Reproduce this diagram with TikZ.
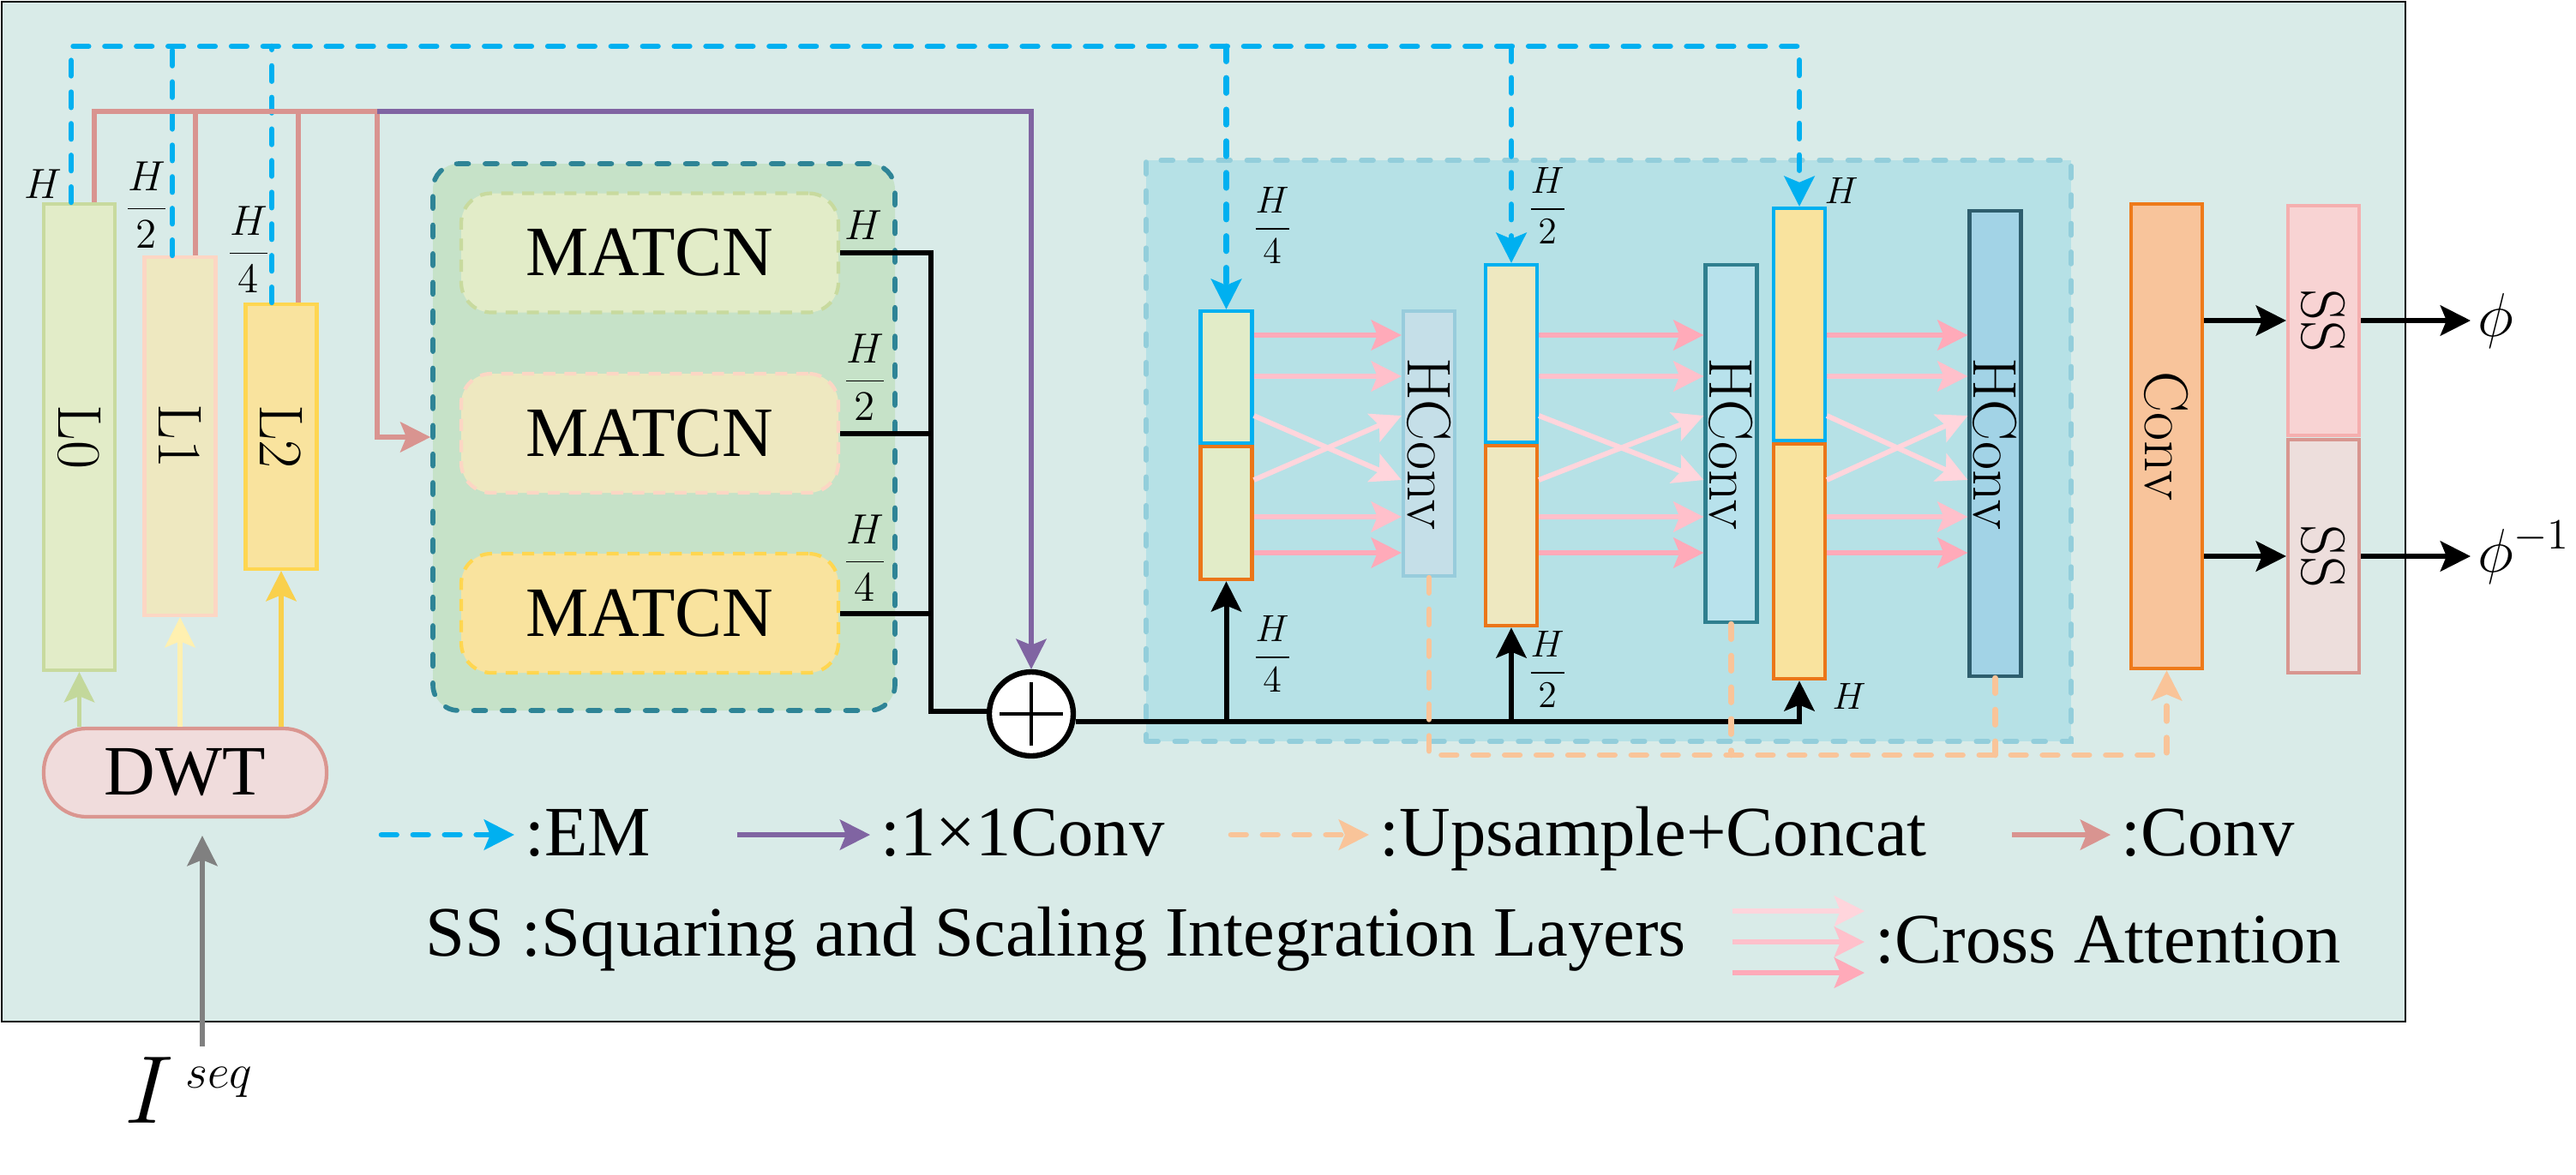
\RequirePackage{fix-cm}
\documentclass[tikz,border=0pt]{standalone}
\usepackage{fontspec}
\newfontfamily\timesfont{Liberation Serif}
\usetikzlibrary{arrows.meta,positioning}

\definecolor{outerbg}{RGB}{217,235,232}
\definecolor{grpbg}{RGB}{198,226,200}
\definecolor{grpd}{RGB}{46,132,150}
\definecolor{panelbg}{RGB}{182,225,230}
\definecolor{paneld}{RGB}{147,206,219}
\definecolor{lv0}{RGB}{226,236,200}
\definecolor{lv0d}{RGB}{200,218,158}
\definecolor{lv1}{RGB}{238,232,192}
\definecolor{lv1d}{RGB}{252,214,196}
\definecolor{lv2}{RGB}{249,227,158}
\definecolor{lv2d}{RGB}{255,214,80}
\definecolor{emblue}{RGB}{0,176,240}
\definecolor{orng}{RGB}{235,118,25}
\definecolor{hc1}{RGB}{197,223,232}
\definecolor{hc1d}{RGB}{152,204,220}
\definecolor{hc2}{RGB}{184,226,236}
\definecolor{hc2d}{RGB}{47,127,143}
\definecolor{hc3}{RGB}{162,211,230}
\definecolor{hc3d}{RGB}{46,94,110}
\definecolor{convf}{RGB}{248,196,155}
\definecolor{convd}{RGB}{238,122,26}
\definecolor{ssa}{RGB}{248,211,211}
\definecolor{ssad}{RGB}{245,175,175}
\definecolor{ssb}{RGB}{237,222,220}
\definecolor{ssbd}{RGB}{216,150,144}
\definecolor{dwt}{RGB}{240,220,220}
\definecolor{dwtd}{RGB}{218,150,144}
\definecolor{arA}{RGB}{195,216,155}
\definecolor{arB}{RGB}{255,240,176}
\definecolor{arC}{RGB}{249,208,76}
\definecolor{convpink}{RGB}{217,148,144}
\definecolor{purp}{RGB}{128,100,162}
\definecolor{peach}{RGB}{249,196,153}
\definecolor{crossA}{RGB}{255,213,220}
\definecolor{crossB}{RGB}{255,192,203}
\definecolor{crossC}{RGB}{255,170,185}

\tikzset{
  tnr/.style={font=\timesfont\fontsize{23.5}{28}\selectfont},
  boxtxt/.style={font=\fontsize{20.5}{24}\selectfont},
  hlab/.style={font=\fontsize{14}{17}\selectfont},
  hsmall/.style={font=\fontsize{12.5}{15}\selectfont},
  lvl/.style={draw,line width=1.2pt,minimum width=0.83cm,inner sep=0pt},
  blk/.style={draw,line width=1.2pt,minimum width=0.6cm,inner sep=0pt},
  matbox/.style={tnr,draw,dash pattern=on 4pt off 3pt,line width=1.2pt,rounded corners=0.35cm,minimum width=4.4cm,minimum height=1.39cm},
  grpbox/.style={draw=grpd,fill=grpbg,dash pattern=on 4pt off 5.5pt,line cap=round,line width=1.6pt,rounded corners=0.3cm,minimum width=5.39cm,minimum height=6.38cm},
  panelbox/.style={draw=paneld,fill=panelbg,dash pattern=on 4pt off 5.5pt,line cap=round,line width=1.6pt,minimum width=10.79cm,minimum height=6.78cm},
  emline/.style={draw=emblue,line width=1.9pt,line cap=round,dash pattern=on 5pt off 5.5pt},
  upline/.style={draw=peach,line width=1.9pt,line cap=round,dash pattern=on 5pt off 5.5pt},
  convline/.style={draw=convpink,line width=1.6pt},
  pline/.style={draw=purp,line width=1.6pt},
  bk/.style={draw=black,line width=1.7pt},
  ca/.style={line width=1.7pt},
}

\begin{document}
\begin{tikzpicture}[>={Stealth[length=10pt,width=10pt,inset=2pt]}]
\useasboundingbox (0,0) rectangle (30.05,-13.70);
\draw[fill=outerbg,line width=0.7pt] (0.02,-0.02) rectangle (28.06,-11.92);

\node[grpbox] (grp) at (7.745,-5.10) {};
\node[panelbox] (panel) at (18.765,-5.26) {};

\node[lvl,draw=lv0d,fill=lv0,minimum height=5.44cm,label={[boxtxt,rotate=-90]center:L0}] (L0) at (0.925,-5.10) {};
\node[lvl,draw=lv1d,fill=lv1,minimum height=4.18cm,label={[boxtxt,rotate=-90]center:L1}] (L1) at (2.10,-5.09) {};
\node[lvl,draw=lv2d,fill=lv2,minimum height=3.09cm,label={[boxtxt,rotate=-90]center:L2}] (L2) at (3.28,-5.095) {};
\node[tnr,draw=dwtd,fill=dwt,line width=1.2pt,rounded corners=0.5cm,minimum width=3.30cm,minimum height=1.03cm] (DWT) at (2.16,-9.015) {DWT};

\node[matbox,draw=lv0d,fill=lv0] (M1) at (7.58,-2.95) {MATCN};
\node[matbox,draw=lv1d,fill=lv1] (M2) at (7.58,-5.055) {MATCN};
\node[matbox,draw=lv2d,fill=lv2] (M3) at (7.58,-7.155) {MATCN};

\node[circle,draw,fill=white,line width=1.8pt,minimum size=0.98cm,inner sep=0pt,
  path picture={\draw[line width=1.1pt] ([xshift=-0.37cm]path picture bounding box.center) -- ([xshift=0.37cm]path picture bounding box.center) ([yshift=-0.37cm]path picture bounding box.center) -- ([yshift=0.37cm]path picture bounding box.center);}] (plus) at (12.03,-8.33) {};

\node[blk,draw=emblue,fill=lv0,minimum height=1.54cm] (A-up) at (14.305,-4.40) {};
\node[blk,draw=orng,fill=lv0,minimum height=1.55cm,below=0pt of A-up] (A-low) {};
\node[blk,draw=emblue,fill=lv1,minimum height=2.07cm] (B-up) at (17.63,-4.125) {};
\node[blk,draw=orng,fill=lv1,minimum height=2.10cm,below=0pt of B-up] (B-low) {};
\node[blk,draw=emblue,fill=lv2,minimum height=2.71cm] (C-up) at (20.99,-3.785) {};
\node[blk,draw=orng,fill=lv2,minimum height=2.74cm,below=0pt of C-up] (C-low) {};

\node[blk,draw=hc1d,fill=hc1,minimum height=3.09cm,label={[boxtxt,rotate=-90]center:HConv}] (H1) at (16.67,-5.175) {};
\node[blk,draw=hc2d,fill=hc2,minimum height=4.17cm,label={[boxtxt,rotate=-90]center:HConv}] (H2) at (20.195,-5.175) {};
\node[blk,draw=hc3d,fill=hc3,minimum height=5.43cm,label={[boxtxt,rotate=-90]center:HConv}] (H3) at (23.275,-5.175) {};

\node[lvl,draw=convd,fill=convf,minimum height=5.42cm,label={[boxtxt,rotate=-90]center:Conv}] (Conv) at (25.275,-5.09) {};
\node[lvl,draw=ssad,fill=ssa,minimum height=2.68cm,label={[boxtxt,rotate=-90]center:SS}] (SS1) at (27.105,-3.74) {};
\node[lvl,draw=ssbd,fill=ssb,minimum height=2.72cm,label={[boxtxt,rotate=-90]center:SS}] (SS2) at (27.105,-6.49) {};
\node[boxtxt,anchor=base west,inner sep=0.08cm] (phi) at (28.82,-3.92) {$\phi$};
\node[boxtxt,anchor=base west,inner sep=0.08cm] (phiinv) at (28.82,-6.67) {$\phi^{-1}$};

\node[font=\fontsize{32}{36}\selectfont,anchor=base west,inner sep=0pt] (iseq) at (1.45,-13.10) {$I^{\,\scriptscriptstyle seq}$};

\node[hlab] (hL0) at (0.50,-2.15) {$H$};
\node[hlab] (hL1) at (1.71,-2.39) {$\displaystyle\frac{H}{2}$};
\node[hlab] (hL2) at (2.90,-2.91) {$\displaystyle\frac{H}{4}$};
\node[hlab] (hM1) at (10.07,-2.63) {$H$};
\node[hlab] (hM2) at (10.09,-4.40) {$\displaystyle\frac{H}{2}$};
\node[hlab] (hM3) at (10.09,-6.51) {$\displaystyle\frac{H}{4}$};
\node[hsmall] (hAt) at (14.84,-2.63) {$\displaystyle\frac{H}{4}$};
\node[hsmall] (hBt) at (18.05,-2.40) {$\displaystyle\frac{H}{2}$};
\node[hsmall] (hCt) at (21.48,-2.22) {$H$};
\node[hsmall] (hAb) at (14.84,-7.63) {$\displaystyle\frac{H}{4}$};
\node[hsmall] (hBb) at (18.05,-7.81) {$\displaystyle\frac{H}{2}$};
\node[hsmall] (hCb) at (21.57,-8.12) {$H$};

\coordinate (em0) at (0.83,-0.54);
\coordinate (em1) at (2.01,-0.54);
\coordinate (em2) at (3.17,-0.54);
\coordinate (cv0) at (1.10,-1.30);
\coordinate (cv1) at (2.28,-1.30);
\coordinate (cv2) at (3.48,-1.30);
\coordinate (cv3) at (4.40,-1.30);
\coordinate (bus) at (10.86,-8.30);
\coordinate (upc) at (25.275,-8.81);
\coordinate (isrc) at (2.36,-12.21);
\coordinate (r1) at (0,-3.91);
\coordinate (r2) at (0,-4.39);
\coordinate (r3) at (0,-4.85);
\coordinate (r4) at (0,-5.60);
\coordinate (r5) at (0,-6.03);
\coordinate (r6) at (0,-6.45);
\coordinate (mainy) at (0,-8.42);

\draw[emline,->] (em0 |- L0.north) -- (em0) -| (C-up.north);
\draw[emline] (em1 |- L1.north) -- (em1);
\draw[emline] (em2 |- L2.north) -- (em2);
\draw[emline,->] (A-up.north |- em0) -- (A-up.north);
\draw[emline,->] (B-up.north |- em0) -- (B-up.north);

\draw[convline] (cv0 |- L0.north) -- (cv0) -- (cv3);
\draw[convline] (cv1 |- L1.north) -- (cv1);
\draw[convline] (cv2 |- L2.north) -- (cv2);
\draw[convline,->] (cv3) |- (grp.west);
\draw[pline,->] (cv3) -| (plus.north);

\draw[line width=1.6pt,draw=arA,->] (L0.south |- DWT.north) -- (L0.south);
\draw[line width=1.6pt,draw=arB,->] (L1.south |- DWT.north) -- (L1.south);
\draw[line width=1.6pt,draw=arC,->] (L2.south |- DWT.north) -- (L2.south);
\draw[line width=1.6pt,draw=gray,->,shorten >=0.2cm] (isrc) -- (isrc |- DWT.south);

\draw[bk] (M1.east) -| (bus) -- (bus -| plus.west);
\draw[bk] (M2.east) -- (M2.east -| bus);
\draw[bk] (M3.east) -- (M3.east -| bus);
\draw[bk,->] (plus.east |- mainy) -| (C-low.south);
\draw[bk,->] (A-low.south |- mainy) -- (A-low.south);
\draw[bk,->] (B-low.south |- mainy) -- (B-low.south);

\foreach \s/\d in {A/H1,B/H2,C/H3}{
  \draw[ca,draw=crossC,->] (\s-up.east |- r1) -- (\d.west |- r1);
  \draw[ca,draw=crossB,->] (\s-up.east |- r2) -- (\d.west |- r2);
  \draw[ca,draw=crossA,->] (\s-up.east |- r3) -- (\d.west |- r4);
  \draw[ca,draw=crossA,->] (\s-low.east |- r4) -- (\d.west |- r3);
  \draw[ca,draw=crossB,->] (\s-low.east |- r5) -- (\d.west |- r5);
  \draw[ca,draw=crossC,->] (\s-low.east |- r6) -- (\d.west |- r6);
}

\draw[upline,->] (H1.south) |- (upc) -- (Conv.south);
\draw[upline] (H2.south) -- (H2.south |- upc);
\draw[upline] (H3.south) -- (H3.south |- upc);

\draw[bk,->] (Conv.east |- SS1.west) -- (SS1.west);
\draw[bk,->] (Conv.east |- SS2.west) -- (SS2.west);
\draw[bk,->] (SS1.east) -- (SS1.east -| phi.west);
\draw[bk,->] (SS2.east) -- (SS2.east -| phiinv.west);

\coordinate (lg1) at (4.45,-9.74);
\coordinate (lg2) at (8.60,-9.74);
\coordinate (lg3) at (14.36,-9.74);
\coordinate (lg4) at (23.47,-9.74);
\coordinate (lgc1) at (20.21,-10.63);
\coordinate (lgc2) at (20.21,-10.99);
\coordinate (lgc3) at (20.21,-11.35);
\node[tnr,anchor=base west] (lgEM) at (6.00,-9.98) {:EM};
\node[tnr,anchor=base west] (lgPC) at (10.15,-9.98) {:1×1Conv};
\node[tnr,anchor=base west] (lgUC) at (15.97,-9.98) {:Upsample+Concat};
\node[tnr,anchor=base west] (lgCV) at (24.62,-9.98) {:Conv};
\node[tnr,anchor=base west] (lgSS) at (4.84,-11.15) {SS :Squaring and Scaling Integration Layers};
\node[tnr,anchor=base west] (lgCA) at (21.75,-11.23) {:Cross Attention};

\draw[emline,->] (lg1) -- (lgEM.west |- lg1);
\draw[pline,->] (lg2) -- (lgPC.west |- lg2);
\draw[upline,->] (lg3) -- (lgUC.west |- lg3);
\draw[convline,->] (lg4) -- (lgCV.west |- lg4);
\draw[ca,draw=crossA,->] (lgc1) -- (lgCA.west |- lgc1);
\draw[ca,draw=crossB,->] (lgc2) -- (lgCA.west |- lgc2);
\draw[ca,draw=crossC,->] (lgc3) -- (lgCA.west |- lgc3);
\end{tikzpicture}
\end{document}
